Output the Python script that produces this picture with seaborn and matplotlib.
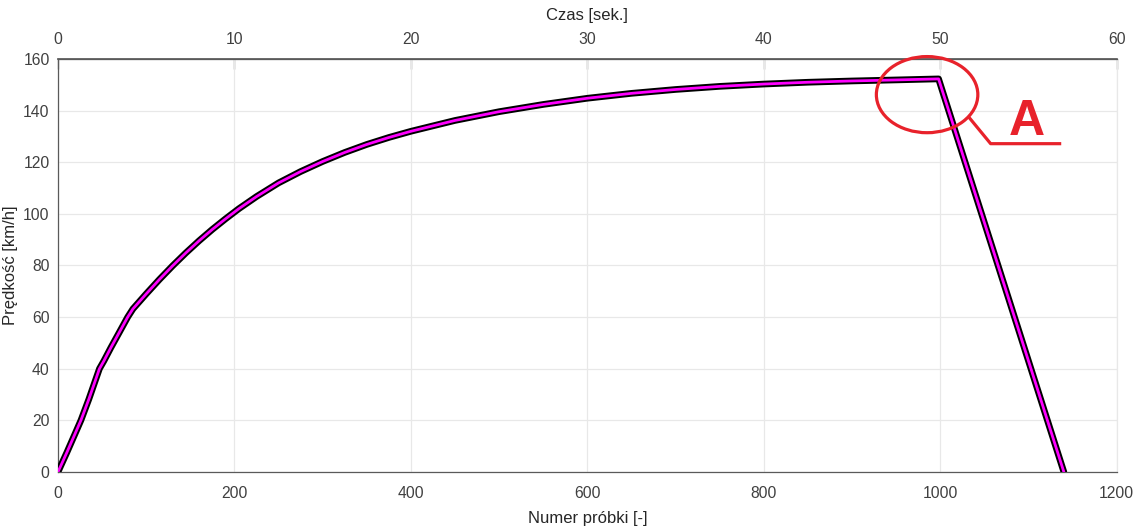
import numpy as np
import pandas as pd
import matplotlib
matplotlib.use("Agg")
import matplotlib.pyplot as plt
from matplotlib.patches import Ellipse
import seaborn as sns

# Speed profile: sample index vs. speed in km/h
samples = [0, 10, 20, 26, 35, 47, 52, 60, 70, 79, 85, 100, 115, 130, 145,
           160, 175, 190, 205, 225, 250, 275, 300, 325, 350, 375, 400, 450,
           500, 550, 600, 650, 700, 750, 800, 850, 900, 950, 998, 1140]
speed = [0, 7.5, 15.3, 20, 28.2, 40, 43, 48.2, 54.4, 60, 63.2, 69, 74.6,
         79.9, 84.9, 89.6, 94.0, 98.1, 102.0, 106.7, 112.0, 116.4, 120.3,
         123.8, 126.9, 129.6, 132.0, 136.2, 139.6, 142.4, 144.8, 146.7,
         148.2, 149.4, 150.3, 151.0, 151.5, 151.9, 152.3, 0]

x_ticks = [0, 200, 400, 600, 800, 1000, 1200]
y_ticks = [0, 20, 40, 60, 80, 100, 120, 140, 160]
time_ticks = [0, 10, 20, 30, 40, 50, 60]
samples_per_second = 20

df = pd.DataFrame({"sample": samples, "speed": speed})

sns.set_theme(style="whitegrid")
plt.rcParams["font.family"] = ["Liberation Sans", "DejaVu Sans"]

fig = plt.figure(figsize=(11.41, 5.26), dpi=100)
ax = fig.add_axes([0.0508, 0.1027, 0.928, 0.7851])
ax.set_facecolor("white")

sns.lineplot(data=df, x="sample", y="speed", ax=ax, color="black", lw=4.8,
             solid_capstyle="round", solid_joinstyle="round", sort=False,
             estimator=None, zorder=3)
sns.lineplot(data=df, x="sample", y="speed", ax=ax, color="#ff00ff", lw=2.0,
             solid_capstyle="round", solid_joinstyle="round", sort=False,
             estimator=None, zorder=4)

ax.set_xlim(0, 1200)
ax.set_ylim(0, 160)
ax.set_xticks(x_ticks)
ax.set_yticks(y_ticks)

grid_col = "#e8e8e8"
ax.grid(True, color=grid_col, lw=0.9)
tick_col = "#404040"
ax.tick_params(axis="both", direction="in", length=10, width=0.9,
               colors=tick_col, labelsize=11.3, labelcolor=tick_col)
ax.tick_params(axis="x", pad=10)
ax.tick_params(axis="y", pad=6)

for side in ["left", "bottom", "top"]:
    ax.spines[side].set_visible(True)
    ax.spines[side].set_color("#5a5a5a")
    ax.spines[side].set_linewidth(0.9)
ax.spines["right"].set_visible(True)
ax.spines["right"].set_color(grid_col)
ax.spines["right"].set_linewidth(0.9)

ax.set_xlabel("Numer próbki [-]", fontsize=12, color="#262626", labelpad=7)
ax.set_ylabel("Prędkość [km/h]", fontsize=12, color="#262626")
ax.yaxis.set_label_coords(-0.038, 0.5)

# Time axis on top (seconds)
top = ax.secondary_xaxis("top", functions=(lambda s: s / samples_per_second,
                                            lambda t: t * samples_per_second))
top.set_xticks(time_ticks)
top.tick_params(direction="in", length=7, width=0.9, colors=tick_col,
                labelsize=11.3, labelcolor=tick_col, pad=9)
top.spines["top"].set_color("#5a5a5a")
top.set_xlabel("Czas [sek.]", fontsize=12, color="#262626", labelpad=8)

# Annotation "A" marking the end of acceleration
red = "#e8222b"
ax.add_patch(Ellipse((985, 146.2), 115, 29.5, fill=False, ec=red, lw=2.3,
                     clip_on=False, zorder=5))
ax.plot([1032, 1057, 1137], [137.6, 127.2, 127.2], color=red, lw=2.3,
        clip_on=False, zorder=5, solid_capstyle="butt")
ax.text(1098, 135.6, "A", color=red, fontsize=36, fontweight="bold",
        ha="center", va="center", clip_on=False, zorder=5)

fig.savefig("out.png", dpi=100)
